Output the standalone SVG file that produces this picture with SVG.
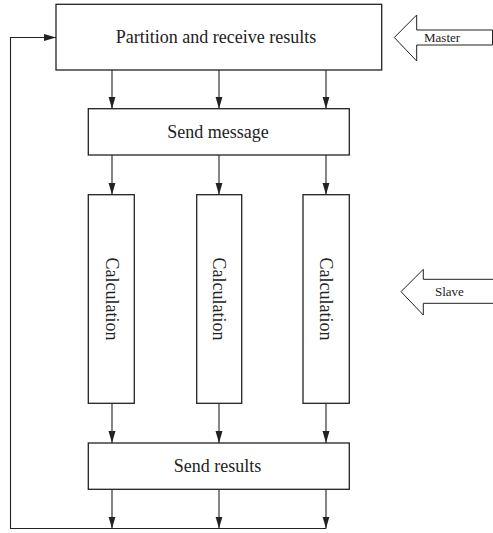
<svg xmlns="http://www.w3.org/2000/svg" width="493" height="533" viewBox="0 0 493 533">
<style>
.box{fill:#fff;stroke:#222;stroke-width:1.3}
.lbl{font-family:"Liberation Serif","Times New Roman",serif;font-size:18px;fill:#222;text-anchor:middle;dominant-baseline:central}
.sm{font-family:"Liberation Serif","Times New Roman",serif;font-size:13px;fill:#222}
.ln{fill:none;stroke:#222;stroke-width:1.1}
.big{fill:#fff;stroke:#222;stroke-width:1}
</style>
<defs>
<marker id="ah" markerUnits="userSpaceOnUse" markerWidth="12" markerHeight="8" refX="12" refY="3.5" orient="auto">
<path d="M0,0 L12,3.5 L0,7 z" fill="#222"/>
</marker>
</defs>
<g id="connectors">
<line class="ln" x1="112" y1="70" x2="112" y2="108.7" marker-end="url(#ah)"/>
<line class="ln" x1="219" y1="70" x2="219" y2="108.7" marker-end="url(#ah)"/>
<line class="ln" x1="326" y1="70" x2="326" y2="108.7" marker-end="url(#ah)"/>
<line class="ln" x1="112" y1="155" x2="112" y2="194.7" marker-end="url(#ah)"/>
<line class="ln" x1="219" y1="155" x2="219" y2="194.7" marker-end="url(#ah)"/>
<line class="ln" x1="326" y1="155" x2="326" y2="194.7" marker-end="url(#ah)"/>
<line class="ln" x1="112" y1="403.3" x2="112" y2="443" marker-end="url(#ah)"/>
<line class="ln" x1="219" y1="403.3" x2="219" y2="443" marker-end="url(#ah)"/>
<line class="ln" x1="326" y1="403.3" x2="326" y2="443" marker-end="url(#ah)"/>
<line class="ln" x1="112" y1="489.3" x2="112" y2="528.5" marker-end="url(#ah)"/>
<line class="ln" x1="219" y1="489.3" x2="219" y2="528.5" marker-end="url(#ah)"/>
<line class="ln" x1="326" y1="489.3" x2="326" y2="528.5" marker-end="url(#ah)"/>
<polyline class="ln" points="326,528.5 10.5,528.5 10.5,37.5 56,37.5" marker-end="url(#ah)"/>
</g>
<g id="partition">
<rect class="box" x="56" y="4.3" width="325.7" height="65.7"/>
<text class="lbl" x="216" y="37">Partition and receive results</text>
</g>
<g id="send-message">
<rect class="box" x="88.3" y="108.7" width="261" height="46.3"/>
<text class="lbl" x="218" y="132">Send message</text>
</g>
<g id="calc1">
<rect class="box" x="88.3" y="194.7" width="46" height="208.6"/>
<text class="lbl" transform="translate(112,299) rotate(90)" x="0" y="0">Calculation</text>
</g>
<g id="calc2">
<rect class="box" x="196.7" y="194.7" width="45" height="208.6"/>
<text class="lbl" transform="translate(219,299) rotate(90)" x="0" y="0">Calculation</text>
</g>
<g id="calc3">
<rect class="box" x="303" y="194.7" width="46.3" height="208.6"/>
<text class="lbl" transform="translate(326,299) rotate(90)" x="0" y="0">Calculation</text>
</g>
<g id="send-results">
<rect class="box" x="88.3" y="443" width="261" height="46.3"/>
<text class="lbl" x="217.5" y="466">Send results</text>
</g>
<g id="master">
<path class="big" d="M492.5,30 L416.7,30 L416.7,15 L394.3,37.5 L416.7,61 L416.7,45 L492.5,45 Z"/>
<text class="sm" x="424" y="41.7">Master</text>
</g>
<g id="slave">
<path class="big" d="M494,279.3 L423.3,279.3 L423.3,269.3 L401,291.7 L423.3,315 L423.3,303.3 L494,303.3"/>
<text class="sm" x="435" y="295.7">Slave</text>
</g>
</svg>
